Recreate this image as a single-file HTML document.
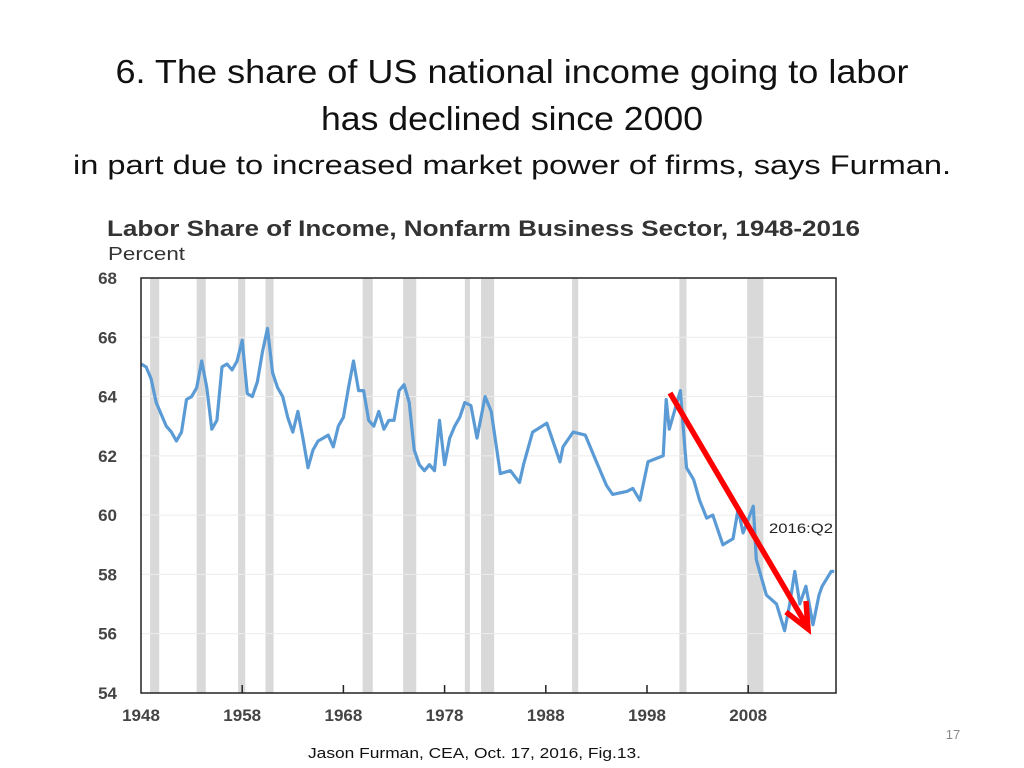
<!DOCTYPE html>
<html><head><meta charset="utf-8"><style>
html,body{margin:0;padding:0;background:#fff;}
svg{display:block;font-family:"Liberation Sans",sans-serif;}
</style></head><body>
<svg id="c" width="1024" height="768" viewBox="0 0 1024 768">
<text x="512" y="83" text-anchor="middle" font-size="33" fill="#111" textLength="793" lengthAdjust="spacingAndGlyphs">6. The share of US national income going to labor</text>
<text x="512" y="130" text-anchor="middle" font-size="33" fill="#111" textLength="382" lengthAdjust="spacingAndGlyphs">has declined since 2000</text>
<text x="512" y="174" text-anchor="middle" font-size="27" fill="#111" textLength="878" lengthAdjust="spacingAndGlyphs">in part due to increased market power of firms, says Furman.</text>
<text x="107" y="236" font-size="22" font-weight="bold" fill="#333" textLength="753" lengthAdjust="spacingAndGlyphs">Labor Share of Income, Nonfarm Business Sector, 1948-2016</text>
<text x="108" y="260" font-size="18" fill="#333" textLength="77" lengthAdjust="spacingAndGlyphs">Percent</text>
<g id="bands"></g><g id="grid"></g><g id="ticks"></g>
<path id="line" fill="none" stroke="#5B9BD5" stroke-width="3.2" stroke-linejoin="round"/>
<rect x="141" y="278" width="695" height="415" fill="none" stroke="#222" stroke-width="1.5"/>
<text x="769" y="533" font-size="14" fill="#222" textLength="64" lengthAdjust="spacingAndGlyphs">2016:Q2</text>
<g stroke="#f00" stroke-width="5.5" stroke-linecap="butt" fill="none">
<line x1="670" y1="393" x2="807" y2="626"/>
<polyline points="786,612 808,629 806,601"/>
</g>
<text x="308" y="758" font-size="15" fill="#111" textLength="333" lengthAdjust="spacingAndGlyphs">Jason Furman, CEA, Oct. 17, 2016, Fig.13.</text>
<text x="953" y="739" text-anchor="middle" font-size="13" fill="#888">17</text>
</svg>
<script>
const years=[1948,1948.5,1949,1949.5,1950,1950.5,1951,1951.5,1952,1952.5,1953,1953.5,1954,1954.5,1955,1955.5,1956,1956.5,1957,1957.5,1958,1958.5,1959,1959.5,1960,1960.5,1961,1961.5,1962,1962.5,1963,1963.5,1964,1964.5,1965,1965.5,1966,1966.5,1967,1967.5,1968,1968.5,1969,1969.5,1970,1970.5,1971,1971.5,1972,1972.5,1973,1973.5,1974,1974.5,1975,1975.5,1976,1976.5,1977,1977.5,1978,1978.5,1979,1979.5,1980,1980.6,1981.2,1982,1982.6,1983.5,1984.5,1985.4,1985.8,1986.7,1988.1,1989.4,1989.7,1990.7,1991.9,1993,1994,1994.6,1996,1996.6,1997.3,1998.1,1999.6,1999.9,2000.2,2001.3,2001.5,2001.9,2002.6,2003.2,2003.9,2004.5,2005.5,2006.5,2007,2007.5,2008.5,2008.8,2009.8,2010.8,2011.6,2012.1,2012.6,2013.1,2013.7,2014.4,2015,2015.3,2016.2,2016.5];
const values=[65.1,65.0,64.6,63.8,63.4,63.0,62.8,62.5,62.8,63.9,64.0,64.3,65.2,64.3,62.9,63.2,65.0,65.1,64.9,65.2,65.9,64.1,64.0,64.5,65.5,66.3,64.8,64.3,64.0,63.3,62.8,63.5,62.6,61.6,62.2,62.5,62.6,62.7,62.3,63.0,63.3,64.3,65.2,64.2,64.2,63.2,63.0,63.5,62.9,63.2,63.2,64.2,64.4,63.8,62.2,61.7,61.5,61.7,61.5,63.2,61.7,62.6,63.0,63.3,63.8,63.7,62.6,64.0,63.5,61.4,61.5,61.1,61.7,62.8,63.1,61.8,62.3,62.8,62.7,61.8,61.0,60.7,60.8,60.9,60.5,61.8,62.0,63.9,62.9,64.2,63.3,61.6,61.2,60.5,59.9,60.0,59.0,59.2,60.2,59.4,60.3,58.5,57.3,57.0,56.1,57.0,58.1,57.0,57.6,56.3,57.3,57.6,58.1,58.1];
const recessions=[[1948.9,1949.8],[1953.5,1954.4],[1957.6,1958.3],[1960.3,1961.1],[1969.9,1970.9],[1973.9,1975.2],[1980,1980.5],[1981.6,1982.9],[1990.6,1991.2],[2001.2,2001.9],[2007.9,2009.5]];
const yTicks=[54,56,58,60,62,64,66,68];
const xTicks=[1948,1958,1968,1978,1988,1998,2008];
const X=y=>141+(y-1948)*10.12, Y=v=>278+(68-v)*29.64;
const NS='http://www.w3.org/2000/svg';
function mk(t,a,p,txt){const e=document.createElementNS(NS,t);for(const k in a)e.setAttribute(k,a[k]);if(txt!=null)e.textContent=txt;document.getElementById(p).appendChild(e);return e;}
recessions.forEach(r=>{const e=mk('rect',{x:X(r[0]),y:278,width:X(r[1])-X(r[0]),height:415,fill:'#d9d9d9'},'bands');

});
yTicks.forEach(v=>{if(v>54&&v<68){const g=mk('line',{x1:141,x2:836,y1:Y(v),y2:Y(v),stroke:'#ececec','stroke-width':1},'grid');

}
const t=mk('text',{x:117,y:Y(v)+6,'text-anchor':'end','font-size':17,'font-weight':'bold',fill:'#444'},'ticks',v);

});
xTicks.forEach(y=>{if(y>1948)mk('line',{x1:X(y),x2:X(y),y1:693,y2:685,stroke:'#222','stroke-width':1.5},'ticks');
const t=mk('text',{x:X(y),y:721,'text-anchor':'middle','font-size':17,'font-weight':'bold',fill:'#444'},'ticks',y);

});
document.getElementById('line').setAttribute('d',years.map((y,i)=>(i?'L':'M')+X(y).toFixed(1)+','+Y(values[i]).toFixed(1)).join(''));
</script>
</body></html>
